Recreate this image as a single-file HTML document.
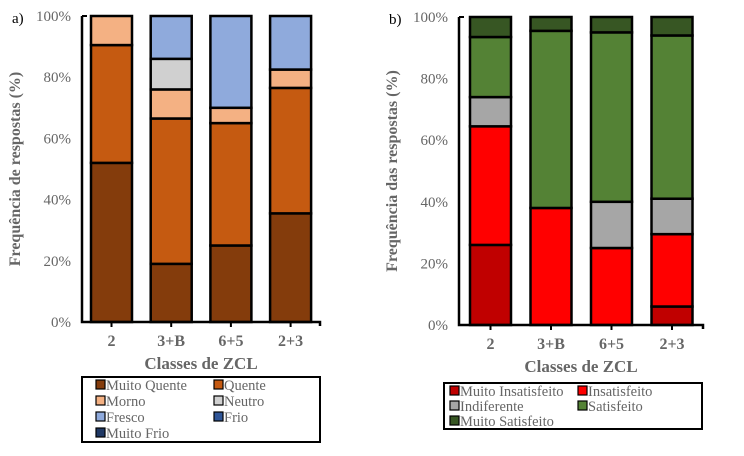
<!DOCTYPE html>
<html><head><meta charset="utf-8"><style>
body{margin:0;background:#fff;width:744px;height:451px;overflow:hidden}
svg text{font-family:"Liberation Serif",serif}
</style></head><body>
<svg id="s" width="744" height="451"></svg>
<script>
const categories=["2","3+B","6+5","2+3"];
const ticks=["0%","20%","40%","60%","80%","100%"];
const seriesA=["Muito Quente","Quente","Morno","Neutro","Fresco","Frio","Muito Frio"];
const colorsA=["#843c0c","#c55a11","#f4b183","#d0d0d0","#8faadc","#2f5597","#1f3864"];
const muitoQuente=[52,19,25,35.5];
const quente=[38.5,47.5,40,41];
const morno=[9.5,9.5,5,6];
const neutro=[0,10,0,0];
const fresco=[0,14,30,17.5];
const frio=[0,0,0,0];
const muitoFrio=[0,0,0,0];
const seriesB=["Muito Insatisfeito","Insatisfeito","Indiferente","Satisfeito","Muito Satisfeito"];
const colorsB=["#c00000","#ff0000","#a6a6a6","#548235","#375623"];
const muitoInsat=[26,0,0,6];
const insat=[38.5,38,25,23.5];
const indif=[9.5,0,15,11.5];
const satis=[19.5,57.5,55,53];
const muitoSatis=[6.5,4.5,5,6];
const NS="http://www.w3.org/2000/svg";
const svg=document.getElementById('s');
function mk(t,a,txt,p){const e=document.createElementNS(NS,t);for(const k in a)e.setAttribute(k,a[k]);if(txt!=null)e.textContent=txt;(p||svg).appendChild(e);return e;}
function chart(cfg){
  const g=mk('g',{});
  
  
  const y=v=>cfg.y0-(cfg.y0-cfg.y1)*v/100;
  const bx=i=>cfg.x0+cfg.first+i*cfg.step;
  ticks.forEach((t,i)=>{const e=mk('text',{x:cfg.ax-11,y:y(i*20)+5,'text-anchor':'end','font-size':15,fill:'#666'},t,g);
    });
  categories.forEach((c,i)=>{
    let acc=0;
    cfg.data.forEach((arr,k)=>{const v=arr[i];if(!v)return;
      const r=mk('rect',{x:bx(i),y:y(acc+v),width:cfg.bw,height:y(acc)-y(acc+v),fill:cfg.colors[k],stroke:'#000','stroke-width':2.5},null,g);
      
      
      acc+=v;});
    const t=mk('text',{x:bx(i)+cfg.bw/2,y:cfg.y0+24,'text-anchor':'middle','font-size':16,'font-weight':'bold',fill:'#666'},c,g);
    
    mk('line',{x1:bx(i)+cfg.bw/2,x2:bx(i)+cfg.bw/2,y1:cfg.y0,y2:cfg.y0+5,stroke:'#000','stroke-width':2},null,g);
  });
  const ax=mk('path',{d:`M${cfg.ax},${cfg.y1} V${cfg.y0} H${cfg.axEnd} v4`,fill:'none',stroke:'#000','stroke-width':2.5},null,g);
  
  mk('line',{x1:cfg.ax,x2:cfg.ax+5,y1:cfg.y1,y2:cfg.y1,stroke:'#000','stroke-width':2},null,g);
  const yt=mk('text',{transform:`translate(${cfg.ax-62},${(cfg.y0+cfg.y1)/2}) rotate(-90)`,'text-anchor':'middle','font-size':16,'font-weight':'bold',fill:'#666'},cfg.ytitle,g);
  
  const xt=mk('text',{x:(cfg.ax+cfg.axEnd)/2,y:cfg.y0+47,'text-anchor':'middle','font-size':17,'font-weight':'bold',fill:'#666'},'Classes de ZCL',g);
  
  const pl=mk('text',{x:cfg.ax-70,y:cfg.y1+7,'font-size':15,fill:'#000'},cfg.panel,g);
  
  const L=cfg.legend;
  const lb=mk('rect',{x:L.x,y:L.y,width:L.w,height:L.h,fill:'#fff',stroke:'#000','stroke-width':2},null,g);
  
  cfg.series.forEach((s,k)=>{const col=k%2,row=Math.floor(k/2);
    const lx=L.x+L.px+col*L.cw, ly=L.y+L.py+row*L.rh;
    const e=mk('g',{},null,g);
    mk('rect',{x:lx,y:ly-9,width:9,height:9,fill:cfg.colors[k],stroke:'#000','stroke-width':1.2},null,e);
    mk('text',{x:lx+10,y:ly+1,'font-size':14.5,fill:'#666'},s,e);});
}
chart({name:'chart-a',panel:'a)',ax:82,axEnd:320,x0:82,first:9,step:59.7,bw:41,y0:322,y1:16,
  data:[muitoQuente,quente,morno,neutro,fresco,frio,muitoFrio],colors:colorsA,series:seriesA,
  ytitle:'Frequência de respostas (%)',legend:{x:82,y:377,w:238,h:65,px:14,py:12,cw:118,rh:16}});
chart({name:'chart-b',panel:'b)',ax:459,axEnd:703,x0:459,first:11,step:60.5,bw:41,y0:325,y1:17,
  data:[muitoInsat,insat,indif,satis,muitoSatis],colors:colorsB,series:seriesB,
  ytitle:'Frequência das respostas (%)',legend:{x:444,y:383,w:258,h:46,px:6,py:12,cw:128,rh:15}});
</script>
</body></html>
